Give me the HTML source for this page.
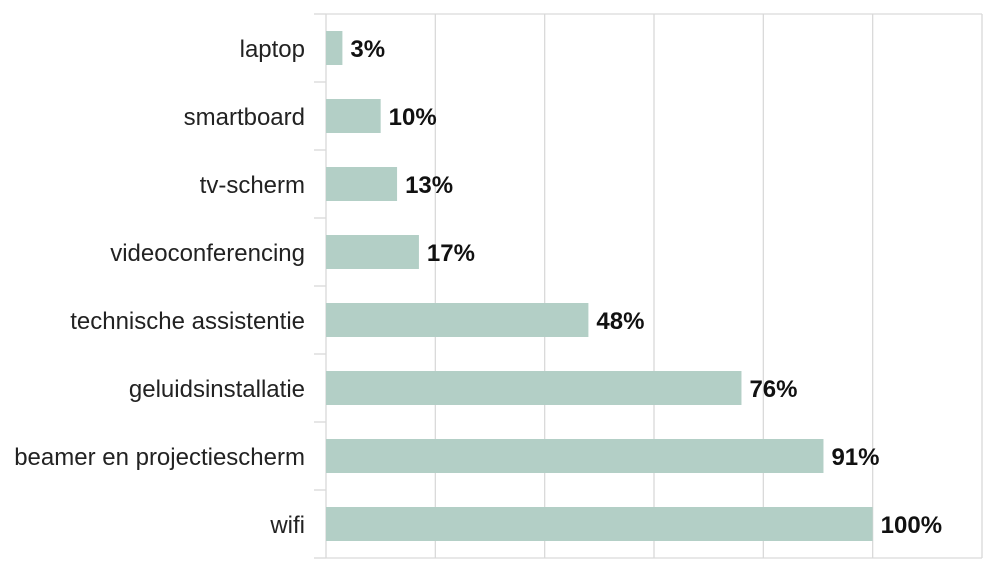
<!DOCTYPE html>
<html><head><meta charset="utf-8"><style>
html,body{margin:0;padding:0;background:#fff;width:1000px;height:575px;overflow:hidden}
text{font-family:"Liberation Sans",sans-serif}
</style></head><body>
<svg id="chart" width="1000" height="575"></svg>
<script>
const categories=["laptop","smartboard","tv-scherm","videoconferencing","technische assistentie","geluidsinstallatie","beamer en projectiescherm","wifi"];
const values=[3,10,13,17,48,76,91,100];
const valueLabels=["3%","10%","13%","17%","48%","76%","91%","100%"];
const xTicks=[0,20,40,60,80,100,120];
const NS="http://www.w3.org/2000/svg";
const svg=document.getElementById('chart');
const L=326,R=982,T=14,B=558;
const x=v=>L+(v/120)*(R-L);
const band=(B-T)/categories.length;
const y=i=>T+i*band;
function mk(tag,attrs){const e=document.createElementNS(NS,tag);for(const k in attrs)e.setAttribute(k,attrs[k]);svg.appendChild(e);return e;}
xTicks.forEach(t=>{const g=mk('line',{x1:x(t),x2:x(t),y1:T,y2:B,stroke:'#d9d9d9','stroke-width':1.3});

});
const topBorder=mk('line',{x1:L,x2:R,y1:T,y2:T,stroke:'#d9d9d9','stroke-width':1.3});


const botBorder=mk('line',{x1:L,x2:R,y1:B,y2:B,stroke:'#d9d9d9','stroke-width':1.3});


for(let i=0;i<=categories.length;i++){const tk=mk('line',{x1:314,x2:L,y1:y(i),y2:y(i),stroke:'#d9d9d9','stroke-width':1.3});

}
categories.forEach((c,i)=>{
const cy=y(i)+band/2;
const r=mk('rect',{x:L,y:cy-17,width:x(values[i])-L,height:34,fill:'#b3cfc6'});


const lb=mk('text',{x:305,y:cy+9,'text-anchor':'end','font-size':24,fill:'#222'});lb.textContent=c;


const vl=mk('text',{x:x(values[i])+8,y:cy+9,'font-size':24,'font-weight':'bold',fill:'#111'});vl.textContent=valueLabels[i];


});
</script>
</body></html>
